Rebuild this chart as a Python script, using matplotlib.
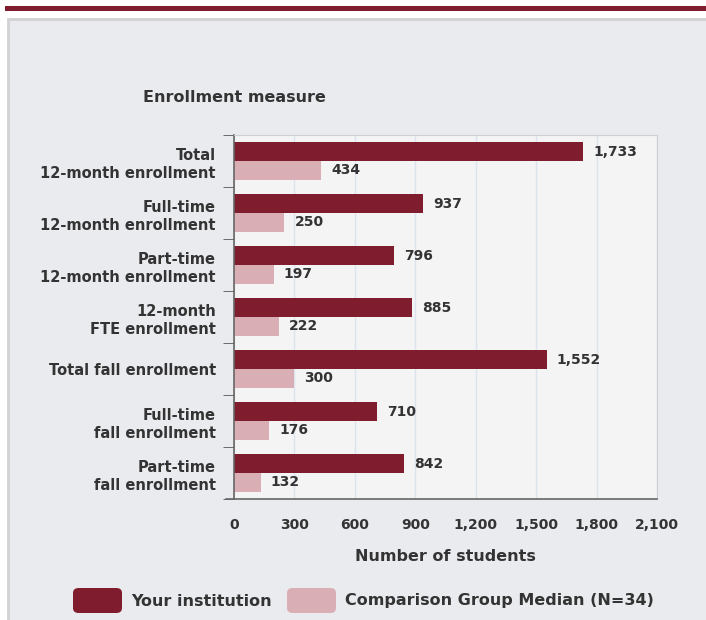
import matplotlib.pyplot as plt
from matplotlib.patches import FancyBboxPatch, Rectangle
from matplotlib.ticker import FuncFormatter

categories = [
    "Total\n12-month enrollment",
    "Full-time\n12-month enrollment",
    "Part-time\n12-month enrollment",
    "12-month\nFTE enrollment",
    "Total fall enrollment",
    "Full-time\nfall enrollment",
    "Part-time\nfall enrollment",
]
institution = [1733, 937, 796, 885, 1552, 710, 842]
comparison = [434, 250, 197, 222, 300, 176, 132]
x_ticks = [0, 300, 600, 900, 1200, 1500, 1800, 2100]

DARK = "#7f1c2e"
LIGHT = "#d9afb5"
TEXT = "#333333"
PANEL = "#eaebef"

W, H = 706, 620
fig = plt.figure(figsize=(W / 100, H / 100), dpi=100)
fig.patch.set_facecolor("white")

# top red stripe and grey panel (drawn behind the axes)
fig.patches.append(Rectangle((5 / W, 1 - 11 / H), 1, 5 / H, transform=fig.transFigure,
                             facecolor=DARK, edgecolor="none", zorder=-10))
fig.patches.append(Rectangle((8 / W, -0.1), 1, 1 - 19 / H + 0.1, transform=fig.transFigure,
                             facecolor=PANEL, edgecolor="#d2d2d2", linewidth=2, zorder=-10))

ax = fig.add_axes([234 / W, 1 - 499 / H, 423 / W, 364 / H])
ax.set_facecolor("#f4f4f4")

n = len(categories)
ys = list(range(n))
h = 0.365
ax.barh([y - h / 2 for y in ys], institution, height=h, color=DARK)
ax.barh([y + h / 2 for y in ys], comparison, height=h, color=LIGHT)

for y, v in zip(ys, institution):
    ax.text(v + 50, y - h / 2, f"{v:,}", va="center", ha="left",
            fontsize=10, fontweight="bold", color=TEXT)
for y, v in zip(ys, comparison):
    ax.text(v + 50, y + h / 2, f"{v:,}", va="center", ha="left",
            fontsize=10, fontweight="bold", color=TEXT)

ax.set_xlim(0, 2100)
ax.set_ylim(n - 0.5, -0.5)
ax.set_xticks(x_ticks)
ax.xaxis.set_major_formatter(FuncFormatter(lambda v, p: f"{int(v):,}"))
ax.set_yticks(ys)
ax.set_yticklabels(categories, fontsize=10.5, fontweight="bold", color=TEXT,
                   linespacing=1.3)
ax.set_yticks([y - 0.5 for y in range(n + 1)], minor=True)
ax.tick_params(axis="y", which="major", length=0, pad=13)
ax.tick_params(axis="y", which="minor", length=8, color="#555555", direction="out")
ax.tick_params(axis="x", length=0, pad=14, labelsize=10, labelcolor=TEXT)
for lbl in ax.get_xticklabels():
    lbl.set_fontweight("bold")

ax.grid(axis="x", color="#dde3ee", linewidth=1)
ax.set_axisbelow(True)
for s in ["top", "right"]:
    ax.spines[s].set_color("#cfcfcf")
for s in ["left", "bottom"]:
    ax.spines[s].set_color("#666666")
    ax.spines[s].set_linewidth(1.2)
# bottom axis line runs a little past the left axis, like the tick marks
ax.plot([-40, 0], [n - 0.5, n - 0.5], color="#666666", linewidth=1.2, clip_on=False)

ax.set_xlabel("Number of students", fontsize=11.5, fontweight="bold", color=TEXT, labelpad=12)
fig.text(234 / W, 1 - 97 / H, "Enrollment measure", ha="center", va="center",
         fontsize=11.5, fontweight="bold", color=TEXT)

# legend
for x0, color, label in [(73, DARK, "Your institution"),
                         (287, LIGHT, "Comparison Group Median (N=34)")]:
    fig.patches.append(FancyBboxPatch((x0 / W, 1 - 613 / H), 49 / W, 25 / H,
                                      boxstyle="round,pad=0,rounding_size=0.008",
                                      transform=fig.transFigure, facecolor=color,
                                      edgecolor="none"))
    fig.text((x0 + 58) / W, 1 - 601 / H, label, ha="left", va="center",
             fontsize=11.5, fontweight="bold", color=TEXT)

fig.savefig("out.png", dpi=100)
